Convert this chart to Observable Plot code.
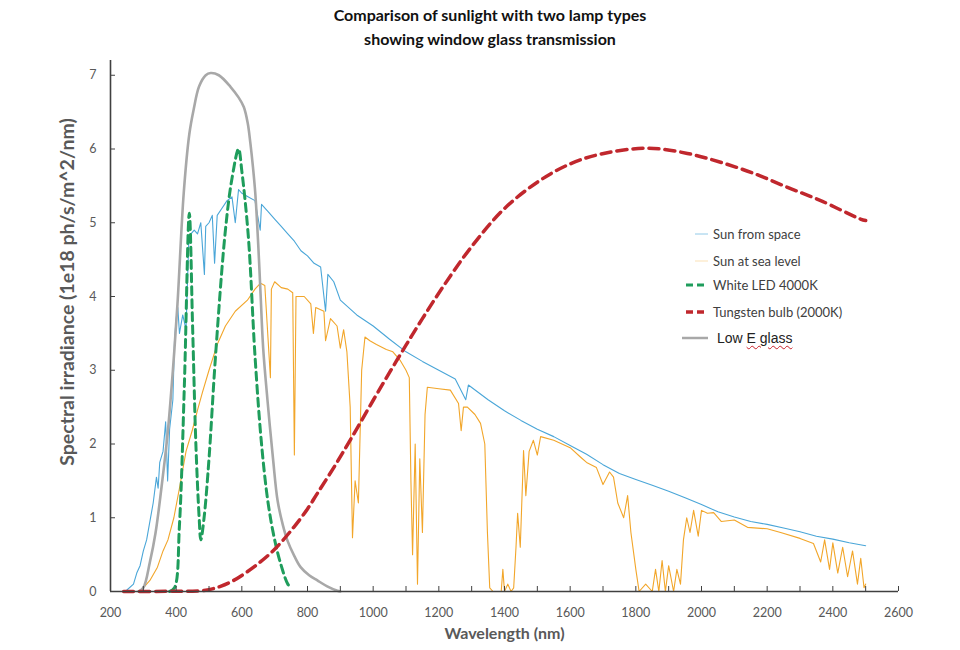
<!DOCTYPE html>
<html><head><meta charset="utf-8">
<script src="https://cdn.jsdelivr.net/npm/d3@7"></script>
<script src="https://cdn.jsdelivr.net/npm/@observablehq/plot@0.6"></script>
<style>
body{margin:0;background:#fff;}
#wrap{position:relative;width:960px;height:650px;font-family:Lato, sans-serif;overflow:hidden;}
#title{position:absolute;left:0;top:3px;width:980px;text-align:center;font-weight:bold;font-size:16px;line-height:24px;color:#111;}
#chart{position:absolute;left:0;top:50px;}
.lg{position:absolute;left:0;height:20px;display:flex;align-items:center;}
.lg span{font-size:13px;color:#404040;}
</style></head><body>
<div id="wrap">
  <div id="title">Comparison of sunlight with two lamp types<br>showing window glass transmission</div>
  <div id="chart"></div>
  <div id="legend"></div>
</div>
<script>
// ---- data (wavelength nm, value 1e18 ph/s/m^2/nm) ----
const sunSpaceNm = [250,270,280,290,300,310,320,330,340,345,350,360,368,374,380,390,395,400,405,410,420,430,438,445,455,465,475,486,490,500,510,517,525,540,555,570,580,590,600,620,640,656,660,680,700,720,740,760,780,800,820,840,855,862,880,900,950,1000,1050,1100,1150,1200,1250,1282,1290,1350,1400,1450,1500,1550,1600,1650,1700,1750,1800,1850,1900,1950,2000,2050,2100,2150,2200,2250,2300,2350,2400,2450,2500];
const sunSpaceVal = [0.02,0.1,0.25,0.35,0.55,0.7,0.95,1.2,1.55,1.4,1.75,1.9,2.3,1.5,2.2,2.6,3.4,3.7,3.85,3.5,3.75,3.55,4.7,4.85,4.9,4.85,5.0,4.3,4.95,5.0,5.1,4.45,5.1,5.2,5.3,5.35,5.0,5.45,5.4,5.35,5.3,4.9,5.25,5.15,5.05,4.95,4.85,4.75,4.62,4.55,4.45,4.4,3.8,4.3,4.2,3.95,3.75,3.6,3.42,3.25,3.12,3.0,2.88,2.6,2.8,2.6,2.45,2.32,2.2,2.1,1.98,1.86,1.72,1.6,1.52,1.44,1.36,1.27,1.18,1.08,1.01,0.95,0.91,0.86,0.81,0.75,0.71,0.66,0.62];

const sunSeaNm = [290,300,320,343,360,375,393,410,430,450,465,480,500,526,550,580,617,640,657,670,687,690,700,720,740,755,760,765,790,810,818,825,850,855,870,890,900,910,920,930,937,945,955,965,975,990,1010,1040,1060,1083,1100,1110,1115,1120,1128,1135,1142,1150,1158,1165,1200,1235,1260,1268,1275,1287,1310,1327,1340,1348,1355,1365,1390,1395,1400,1410,1420,1428,1435,1440,1448,1455,1458,1465,1475,1488,1500,1510,1550,1600,1632,1650,1680,1700,1720,1732,1745,1763,1775,1785,1800,1810,1830,1850,1860,1870,1880,1890,1900,1915,1925,1936,1945,1955,1965,1976,1990,2000,2018,2037,2060,2100,2140,2200,2241,2300,2341,2363,2375,2390,2400,2415,2430,2445,2460,2475,2485,2495,2500];
const sunSeaVal = [0,0.05,0.15,0.33,0.55,0.7,1.0,1.4,1.9,2.2,2.46,2.7,3.0,3.36,3.6,3.8,3.95,4.1,4.18,4.15,2.9,4.1,4.2,4.12,4.1,4.05,1.85,4.0,4.0,3.9,3.5,3.85,3.8,3.4,3.7,3.6,3.3,3.55,3.25,2.5,0.73,1.5,1.2,3.0,3.45,3.4,3.35,3.28,3.25,3.13,3.0,2.9,1.5,0.5,2.0,0.1,1.8,0.8,2.4,2.77,2.75,2.73,2.55,2.18,2.5,2.5,2.4,2.28,2.0,0.8,0.05,0,0,0.3,0,0.1,0,0.05,0.6,1.06,0.6,1.5,1.91,1.3,1.9,2.05,1.85,2.1,2.05,1.95,1.82,1.75,1.68,1.45,1.62,1.55,1.2,1.0,1.3,0.8,0.3,0,0.1,0,0.3,0,0.42,0,0.35,0,0.3,0.1,0.7,1.0,0.8,1.1,0.75,1.1,1.06,1.07,0.95,0.97,0.87,0.85,0.8,0.72,0.65,0.4,0.7,0.3,0.66,0.25,0.6,0.2,0.55,0.1,0.45,0.05,0.1];

const ledNm  = [380,395,410,425,440,450,460,470,475,485,500,520,550,570,590,600,620,640,660,680,700,720,740,750];
const ledVal = [0,0.05,0.9,2.8,5.13,3.6,2.0,1.0,0.7,1.0,1.8,3.2,4.9,5.6,6.0,5.7,4.8,3.2,2.0,1.2,0.7,0.35,0.1,0.05];

const tungNm  = [240,400,450,495,535,575,636,697,758,800,830,880,931,1001,1050,1100,1150,1214,1297,1397,1500,1601,1702,1836,1957,2058,2159,2262,2363,2484,2500];
const tungVal = [0,0.003,0.005,0.02,0.07,0.15,0.33,0.56,0.87,1.12,1.33,1.68,2.06,2.6,2.97,3.34,3.7,4.14,4.66,5.18,5.55,5.8,5.94,6.01,5.94,5.82,5.67,5.48,5.3,5.05,5.03];

const glassNm  = [285,300,320,337,355,374,390,404,423,440,453,470,490,505,530,566,590,606,618,626,634,641,650,657,665,678,695,709,725,739,760,779,805,830,860,891,900];
const glassVal = [0,0.05,0.4,0.79,1.4,2.14,3.0,3.9,5.4,6.2,6.53,6.85,7.0,7.03,7.0,6.84,6.7,6.57,6.35,6.08,5.75,5.4,4.7,4.04,3.3,2.6,1.8,1.23,0.9,0.69,0.48,0.33,0.22,0.15,0.07,0.01,0];

const xMinorTicks = d3.range(200, 2601, 100);
const xTickLabels = [200,400,600,800,1000,1200,1400,1600,1800,2000,2200,2400,2600];
const yTickLabels = [0,1,2,3,4,5,6,7];

const seriesNames = ["Sun from space","Sun at sea level","White LED 4000K","Tungsten bulb (2000K)","Low E glass"];
const seriesColors = ["#4aa6d8","#f2a62a","#1f9d5c","#c0272d","#a8a8a8"];

const toRows = (nm, v) => nm.map((x, i) => ({x, y: v[i]}));
const sunSpace = toRows(sunSpaceNm, sunSpaceVal);
const sunSea = toRows(sunSeaNm, sunSeaVal);
const led = toRows(ledNm, ledVal);
const tung = toRows(tungNm, tungVal);
const glass = toRows(glassNm, glassVal);

const chart = Plot.plot({
  width: 960, height: 600,
  marginLeft: 110, marginRight: 62, marginTop: 10, marginBottom: 59,
  style: {fontFamily: "Lato, sans-serif", fontSize: "12.5px", color: "#595959", background: "transparent"},
  x: {domain: [200, 2600]},
  y: {domain: [0, 7.2]},
  marks: [
    Plot.line(sunSpace, {x: "x", y: "y", stroke: seriesColors[0], strokeWidth: 1.1}),
    Plot.line(sunSea, {x: "x", y: "y", stroke: seriesColors[1], strokeWidth: 1.1}),
    Plot.line(glass, {x: "x", y: "y", stroke: seriesColors[4], strokeWidth: 2.6, curve: "catmull-rom"}),
    Plot.line(led, {x: "x", y: "y", stroke: seriesColors[2], strokeWidth: 3, strokeDasharray: "8,5", curve: "catmull-rom"}),
    Plot.line(tung, {x: "x", y: "y", stroke: seriesColors[3], strokeWidth: 3.5, strokeDasharray: "10,6", curve: "catmull-rom"}),
    Plot.ruleY([0], {stroke: "#404040", strokeWidth: 1.6}),
    Plot.ruleX([200], {stroke: "#404040", strokeWidth: 1.6}),
    Plot.axisX({ticks: xMinorTicks, tickSize: -5, tickFormat: () => "", label: null, stroke: "#404040"}),
    Plot.axisX({ticks: xTickLabels, tickSize: 0, tickPadding: 17, tickFormat: d => String(d), label: null, fill: "#595959"}),
    Plot.axisY({ticks: yTickLabels, tickSize: -5, tickFormat: () => "", label: null, stroke: "#404040"}),
    Plot.axisY({ticks: yTickLabels, tickSize: 0, tickPadding: 14, tickFormat: d => String(d), label: null, fill: "#595959"}),
    Plot.text(["Wavelength (nm)"], {frameAnchor: "bottom", dy: 47, fontWeight: "bold", fontSize: 16, fill: "#595959"}),
    Plot.text(["Spectral irradiance (1e18 ph/s/m^2/nm)"], {frameAnchor: "left", textAnchor: "middle", rotate: -90, dx: -43, dy: -34, fontWeight: "bold", fontSize: 19.5, fill: "#595959"})
  ]
});
document.getElementById("chart").appendChild(chart);

// legend
const legend = document.getElementById("legend");
const rowsY = [234, 261, 285, 312, 338];
const symbols = [
  {x1: 695, x2: 708, w: 1, dash: null},
  {x1: 695, x2: 708, w: 1, dash: null},
  {x1: 686, x2: 708, w: 3, dash: "7,4"},
  {x1: 686, x2: 708, w: 3.5, dash: "7,4"},
  {x1: 682, x2: 708, w: 2.5, dash: null}
];
seriesNames.forEach((name, i) => {
  const row = document.createElement("div");
  row.className = "lg";
  row.style.top = (rowsY[i] - 10) + "px";
  row.style.left = "680px";
  const s = symbols[i];
  const sym = `<svg width="36" height="20" style="flex:none"><line x1="${s.x1-680}" x2="${s.x2-680}" y1="10" y2="10" stroke="${seriesColors[i]}" stroke-width="${s.w}" ${s.dash ? `stroke-dasharray="${s.dash}"` : ""} ${i===1 ? 'stroke-opacity="0.35"' : (i===0 ? 'stroke-opacity="0.6"' : "")}/></svg>`;
  let label;
  if (i === 4) {
    label = `<span style="font-family:'Liberation Sans',Arial,sans-serif;font-size:14px;color:#222;margin-left:1px">Low <span style="font-family:inherit;font-size:14px;color:#222;text-decoration:underline wavy #c8202a;text-decoration-thickness:1px;text-underline-offset:2px">E glass</span></span>`;
  } else {
    label = `<span style="margin-left:-3px">${name}</span>`;
  }
  row.innerHTML = sym + label;
  legend.appendChild(row);
});
</script>
</body></html>
